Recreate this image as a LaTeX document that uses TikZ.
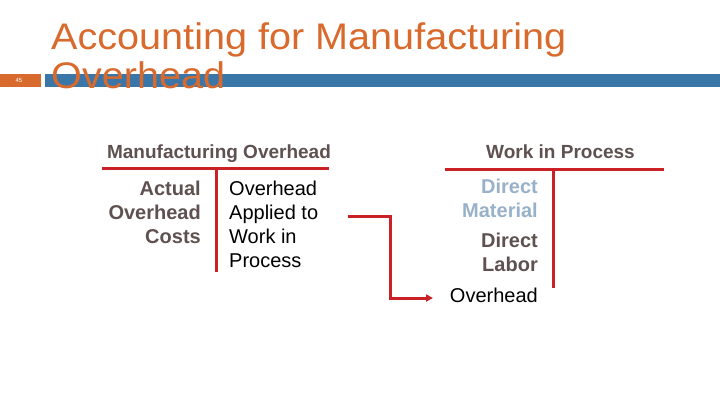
\documentclass[tikz,border=0pt]{standalone}
\usepackage{fontspec}
\setmainfont{Liberation Sans}
\usetikzlibrary{arrows.meta}
\definecolor{ttlorange}{RGB}{216,106,45}
\definecolor{barblue}{RGB}{58,118,168}
\definecolor{tred}{RGB}{204,32,39}
\definecolor{gbrown}{RGB}{94,81,79}
\definecolor{lblue}{RGB}{152,177,200}
\tikzset{
  hdr/.style={font=\fontsize{19}{22}\selectfont\bfseries, text=gbrown, inner sep=0pt},
  ent/.style={font=\fontsize{20}{24}\selectfont, inner sep=0pt},
  tline/.style={draw=tred, line width=3pt},
  conn/.style={draw=tred, line width=3pt, -{Triangle[length=7pt,width=7pt]}},
}
\begin{document}
\begin{tikzpicture}[x=1pt,y=-1pt]
\useasboundingbox (0,0) rectangle (720,405);
% header bars
\fill[ttlorange] (0,74) rectangle (41,87);
\node[font=\fontsize{6}{7}\selectfont, text=white, inner sep=0pt] (pnum) at (19,80.5) {45};
\fill[barblue] (45,74) rectangle (720,87);
\node[anchor=base west, inner sep=0pt, font=\fontsize{37}{39}\selectfont, text=ttlorange, align=left, xscale=1.07] (title) at (51,88) {Accounting for Manufacturing\\[0pt]Overhead};
% Manufacturing Overhead T-account
\node[hdr, anchor=base] (moh) at (219,158) {Manufacturing Overhead};
\coordinate (moL) at (102,168);
\coordinate (moR) at (329,168);
\coordinate (moT) at (216,168);
\coordinate (moB) at (216,272);
\draw[tline] (moL) -- (moR);
\draw[tline] (moT) -- (moB);
\node[ent, font=\fontsize{20}{24}\selectfont\bfseries, text=gbrown, anchor=base east] (a1) at (201,195) {Actual};
\node[ent, font=\fontsize{20}{24}\selectfont\bfseries, text=gbrown, anchor=base east] (a2) at (201,219) {Overhead};
\node[ent, font=\fontsize{20}{24}\selectfont\bfseries, text=gbrown, anchor=base east] (a3) at (201,243) {Costs};
\node[ent, anchor=base west] (b1) at (229,195) {Overhead};
\node[ent, anchor=base west] (b2) at (229,219) {Applied to};
\node[ent, anchor=base west] (b3) at (229,243) {Work in};
\node[ent, anchor=base west] (b4) at (229,267) {Process};
% Work in Process T-account
\node[hdr, anchor=base] (wip) at (560.5,158) {Work in Process};
\coordinate (wL) at (445,169);
\coordinate (wR) at (664,169);
\coordinate (wT) at (553,169);
\coordinate (wB) at (553,288);
\draw[tline] (wL) -- (wR);
\draw[tline] (wT) -- (wB);
\node[ent, font=\fontsize{20}{24}\selectfont\bfseries, text=lblue, anchor=base east] (c1) at (538,193) {Direct};
\node[ent, font=\fontsize{20}{24}\selectfont\bfseries, text=lblue, anchor=base east] (c2) at (538,217) {Material};
\node[ent, font=\fontsize{20}{24}\selectfont\bfseries, text=gbrown, anchor=base east] (c3) at (538,247) {Direct};
\node[ent, font=\fontsize{20}{24}\selectfont\bfseries, text=gbrown, anchor=base east] (c4) at (538,271) {Labor};
\node[ent, anchor=base east] (c5) at (538,302) {Overhead};
% connector
\coordinate (arS) at (348,216);
\coordinate (arM) at (390,216);
\coordinate (arE) at (433,298);
\draw[conn] (arS) -- (arM) |- (arE);
\end{tikzpicture}
\end{document}
